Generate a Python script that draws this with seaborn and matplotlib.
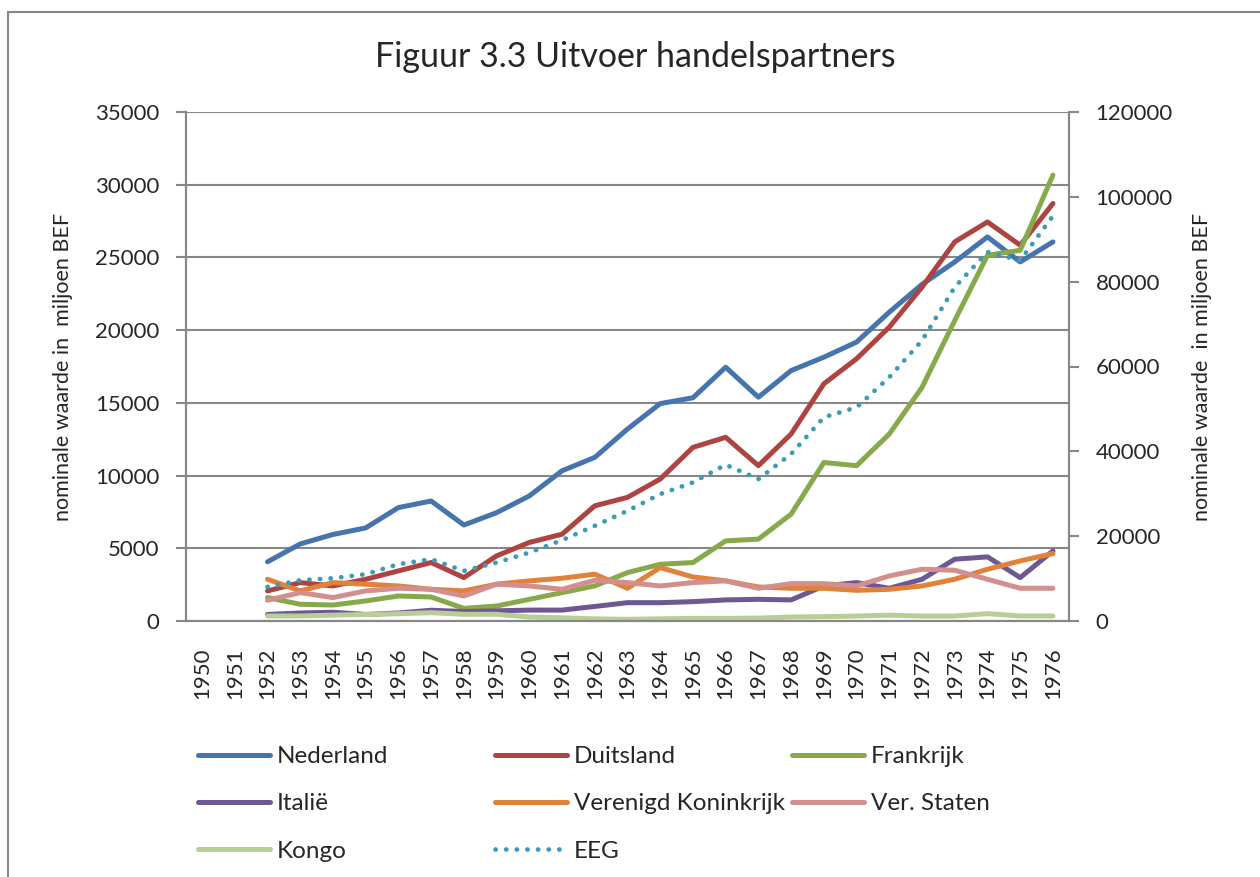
""" Figuur 3.3 Uitvoer handelspartners """

import matplotlib
matplotlib.use('Agg')
import matplotlib.pyplot as plt
import matplotlib.ticker as mticker
from matplotlib.lines import Line2D
import pandas as pd
import seaborn as sns

sns.set_style('white')
plt.rcParams['font.family'] = ['Lato', 'DejaVu Sans']

# categorieen op de x-as (1950 en 1951 zonder gegevens)
as_jaren = list(range(1950, 1977))
jaren = list(range(1952, 1977))

# uitvoer in miljoen BEF (linker as)
nederland = [4070, 5300, 5950, 6400, 7800, 8250, 6600, 7450, 8600, 10330, 11250,
             13200, 14950, 15350, 17450, 15390, 17220, 18140, 19180, 21240,
             23150, 24690, 26410, 24690, 26070]
duitsland = [2070, 2640, 2410, 2870, 3445, 4020, 2985, 4480, 5400, 5970, 7920,
             8500, 9760, 11940, 12630, 10680, 12860, 16310, 18030, 20210,
             22960, 26070, 27440, 25840, 28710]
frankrijk = [1610, 1150, 1100, 1380, 1720, 1650, 870, 1030, 1490, 1950, 2410,
             3330, 3900, 4020, 5510, 5630, 7350, 10900, 10680, 12860, 16070,
             20670, 25150, 25490, 30660]
italie = [450, 550, 600, 450, 550, 740, 650, 700, 750, 750, 1000, 1260, 1260,
          1330, 1450, 1490, 1450, 2410, 2640, 2250, 2870, 4250, 4410, 2985, 4820]
vk = [2870, 2070, 2640, 2530, 2410, 2180, 2070, 2530, 2760, 2940, 3220, 2250,
      3670, 3030, 2760, 2340, 2250, 2250, 2110, 2180, 2410, 2870, 3560, 4130, 4640]
vs = [1430, 1950, 1610, 2070, 2250, 2180, 1720, 2530, 2410, 2180, 2800, 2640,
      2410, 2640, 2760, 2250, 2570, 2570, 2410, 3100, 3560, 3490, 2870, 2250, 2250]
kongo = [345, 345, 400, 450, 500, 570, 460, 460, 275, 220, 150, 115, 150, 180,
         180, 200, 275, 300, 340, 400, 340, 340, 505, 345, 345]

# EEG op de rechter as
eeg = [8030, 9610, 10080, 11030, 13390, 14570, 11810, 13780, 16130, 19060,
       22440, 25980, 29920, 32670, 36850, 33460, 39370, 48020, 50380, 57470,
       66140, 78730, 86990, 85030, 95500]

landen = ['Nederland', 'Duitsland', 'Frankrijk', 'Italië',
          'Verenigd Koninkrijk', 'Ver. Staten', 'Kongo']
reeksen = [nederland, duitsland, frankrijk, italie, vk, vs, kongo]
kleuren = ['#4674AD', '#AE4441', '#88A94B', '#6E5792',
           '#E0823A', '#D38F8D', '#B8CE96']
kleur_eeg = '#3C9CB5'

df = pd.DataFrame({
    'jaar': jaren * len(landen),
    'waarde': [v for r in reeksen for v in r],
    'land': [l for l in landen for _ in jaren],
})

grijs = '#878787'

fig = plt.figure(figsize=(12.6, 8.77), dpi=100)
ax = fig.add_axes([185.7 / 1260, 1 - 621 / 877, (1069.3 - 185.7) / 1260, (621 - 112) / 877])
ax2 = ax.twinx()

sns.lineplot(data=df, x='jaar', y='waarde', hue='land', hue_order=landen,
             palette=kleuren, linewidth=3.6, ax=ax, legend=False, sort=False)
for lijn in ax.get_lines():
    lijn.set_solid_capstyle('round')
    lijn.set_solid_joinstyle('round')

sns.lineplot(x=jaren, y=eeg, ax=ax2, color=kleur_eeg, linewidth=3.4,
             linestyle=(0, (0.05, 2.2)), dash_capstyle='round')

# assen
ax.set_xlim(1949.5, 1976.5)
ax.set_ylim(0, 35000)
ax2.set_ylim(0, 120000)
ax.yaxis.set_major_locator(mticker.MultipleLocator(5000))
ax2.yaxis.set_major_locator(mticker.MultipleLocator(20000))
ax.set_xticks(as_jaren)
ax.set_xticklabels([str(j) for j in as_jaren], rotation=90)
ax.set_xticks([j - 0.5 for j in as_jaren] + [1976.5], minor=True)
ax.tick_params(axis='x', which='major', length=0, pad=19, labelsize=16)
ax.tick_params(axis='x', which='minor', length=7, width=1.5, color=grijs)
ax.tick_params(axis='y', length=7, width=1.5, color=grijs, pad=12, labelsize=16)
ax2.tick_params(axis='y', length=7, width=1.5, color=grijs, pad=12, labelsize=16)

ax.grid(axis='y', color=grijs, linewidth=1.5)
ax.set_axisbelow(True)
for a in (ax, ax2):
    a.spines['top'].set_visible(False)
    for s in ('left', 'right', 'bottom'):
        a.spines[s].set_color(grijs)
        a.spines[s].set_linewidth(1.5)
ax.set_xlabel('')
ax.set_ylabel('nominale waarde in  miljoen BEF', fontsize=15.5, labelpad=16)
ax2.set_ylabel('nominale waarde  in miljoen BEF', fontsize=15.5, labelpad=14)

fig.text(635 / 1260, 1 - 57 / 877, 'Figuur 3.3 Uitvoer handelspartners',
         ha='center', va='center', fontsize=24.5)

# legenda in drie kolommen
handles = [Line2D([], [], color=k, linewidth=3.6, solid_capstyle='round')
           for k in kleuren]
handles.append(Line2D([], [], color=kleur_eeg, linewidth=3.4,
                      linestyle=(0, (0.05, 2.2)), dash_capstyle='round'))
namen = landen + ['EEG']
kolommen = [[0, 3, 6], [1, 4, 7], [2, 5]]
for i, kol in enumerate(kolommen):
    fig.legend([handles[j] for j in kol], [namen[j] for j in kol],
               loc='upper left', bbox_to_anchor=((198 + 297 * i) / 1260, 1 - 746 / 877),
               frameon=False, fontsize=17.5, handlelength=2.95, handletextpad=0.3,
               labelspacing=1.08, borderpad=0, borderaxespad=0)

# rand om de grafiek
rand = plt.Rectangle((7.5 / 1260, -0.1), 1.2, 1.1 - 12 / 877,
                     transform=fig.transFigure, fill=False,
                     edgecolor=grijs, linewidth=1.5)
fig.patches.append(rand)

fig.savefig('out.png', dpi=100)
